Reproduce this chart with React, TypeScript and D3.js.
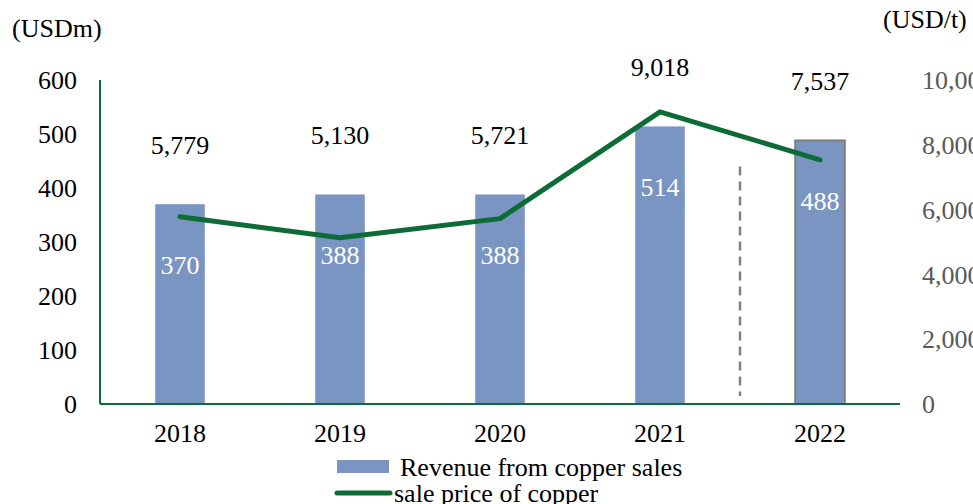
import React, { useEffect, useRef } from "react";
import * as d3 from "d3";

const years = ["2018", "2019", "2020", "2021", "2022"];
const revenue = [370, 388, 388, 514, 488];
const price = [5779, 5130, 5721, 9018, 7537];
const leftTicks = [0, 100, 200, 300, 400, 500, 600];
const rightTicks = [0, 2000, 4000, 6000, 8000, 10000];

const App = () => {
  const ref = useRef<SVGSVGElement | null>(null);

  useEffect(() => {
    const width = 973;
    const height = 504;
    const font = "'Liberation Serif', 'Times New Roman', serif";
    const fs = "26px";
    const green = "#0d6b36";

    const svg = d3.select(ref.current);
    svg.selectAll("*").remove();

    const x = d3.scaleBand().domain(years).range([100, 900]).paddingInner(0.69).paddingOuter(0.345);
    const yRev = d3.scaleLinear().domain([0, 600]).range([404, 80]);
    const yPrice = d3.scaleLinear().domain([0, 10000]).range([404, 80]);

    // unit titles
    svg.append("text").attr("x", 12).attr("y", 37).text("(USDm)")
      .style("font-family", font).style("font-size", fs).attr("fill", "#000");
    svg.append("text").attr("x", 883).attr("y", 28).text("(USD/t)")
      .style("font-family", font).style("font-size", fs).attr("fill", "#000");

    // left ticks
    svg.append("g").selectAll("text").data(leftTicks).join("text")
      .attr("x", 77).attr("y", (d) => yRev(d)).attr("dy", "0.35em")
      .attr("text-anchor", "end")
      .style("font-family", font).style("font-size", fs).attr("fill", "#000")
      .text((d) => d3.format(",")(d));

    // right ticks
    svg.append("g").selectAll("text").data(rightTicks).join("text")
      .attr("x", 922).attr("y", (d) => yPrice(d)).attr("dy", "0.35em")
      .style("font-family", font).style("font-size", fs).attr("fill", "#595959")
      .text((d) => d3.format(",")(d));

    // bars
    svg.append("g").selectAll("rect").data(revenue).join("rect")
      .attr("x", (d, i) => x(years[i])!)
      .attr("y", (d) => yRev(d))
      .attr("width", x.bandwidth())
      .attr("height", (d) => yRev(0) - yRev(d))
      .attr("fill", "#7a95c2")
      .attr("stroke", (d, i) => (i === years.length - 1 ? "#7f7f7f" : "none"))
      .attr("stroke-width", 2);

    // dashed separator between 2021 and 2022
    const sepX = x("2022")! - (x.step() - x.bandwidth()) / 2;
    svg.append("line")
      .attr("x1", sepX).attr("x2", sepX)
      .attr("y1", yRev(440)).attr("y2", yRev(15))
      .attr("stroke", "#808080").attr("stroke-width", 2.5)
      .attr("stroke-dasharray", "9,6");

    // axes lines
    svg.append("line").attr("x1", 100).attr("x2", 100).attr("y1", 80).attr("y2", 404)
      .attr("stroke", green).attr("stroke-width", 2);
    svg.append("line").attr("x1", 100).attr("x2", 900).attr("y1", 404).attr("y2", 404)
      .attr("stroke", green).attr("stroke-width", 2);

    // x labels
    svg.append("g").selectAll("text").data(years).join("text")
      .attr("x", (d) => x(d)! + x.bandwidth() / 2).attr("y", 442)
      .attr("text-anchor", "middle")
      .style("font-family", font).style("font-size", fs).attr("fill", "#000")
      .text((d) => d);

    // price line
    const line = d3.line<number>()
      .x((d, i) => x(years[i])! + x.bandwidth() / 2)
      .y((d) => yPrice(d));
    svg.append("path").datum(price).attr("d", line)
      .attr("fill", "none").attr("stroke", green).attr("stroke-width", 5)
      .attr("stroke-linecap", "round").attr("stroke-linejoin", "round");

    // price labels
    svg.append("g").selectAll("text").data(price).join("text")
      .attr("x", (d, i) => x(years[i])! + x.bandwidth() / 2)
      .attr("y", (d, i) => yRev(revenue[i]) - 50)
      .attr("text-anchor", "middle")
      .style("font-family", font).style("font-size", fs).attr("fill", "#000")
      .text((d) => d3.format(",")(d));

    // revenue labels
    svg.append("g").selectAll("text").data(revenue).join("text")
      .attr("x", (d, i) => x(years[i])! + x.bandwidth() / 2)
      .attr("y", (d) => yRev(d) + 70)
      .attr("text-anchor", "middle")
      .style("font-family", font).style("font-size", fs).attr("fill", "#fff")
      .text((d) => d);

    // legend
    const lg = svg.append("g");
    lg.append("rect").attr("x", 337).attr("y", 460).attr("width", 52).attr("height", 13).attr("fill", "#7a95c2");
    lg.append("text").attr("x", 400).attr("y", 476).text("Revenue from copper sales")
      .style("font-family", font).style("font-size", fs).attr("fill", "#000");
    lg.append("line").attr("x1", 337).attr("x2", 390).attr("y1", 493).attr("y2", 493)
      .attr("stroke", green).attr("stroke-width", 5).attr("stroke-linecap", "round");
    lg.append("text").attr("x", 394).attr("y", 502).text("sale price of copper")
      .style("font-family", font).style("font-size", fs).attr("fill", "#000");

    svg.attr("width", width).attr("height", height);
  }, []);

  return (
    <svg
      ref={ref}
      width={973}
      height={504}
      style={{ position: "absolute", left: 0, top: 0, background: "#fff" }}
    />
  );
};

export default App;
